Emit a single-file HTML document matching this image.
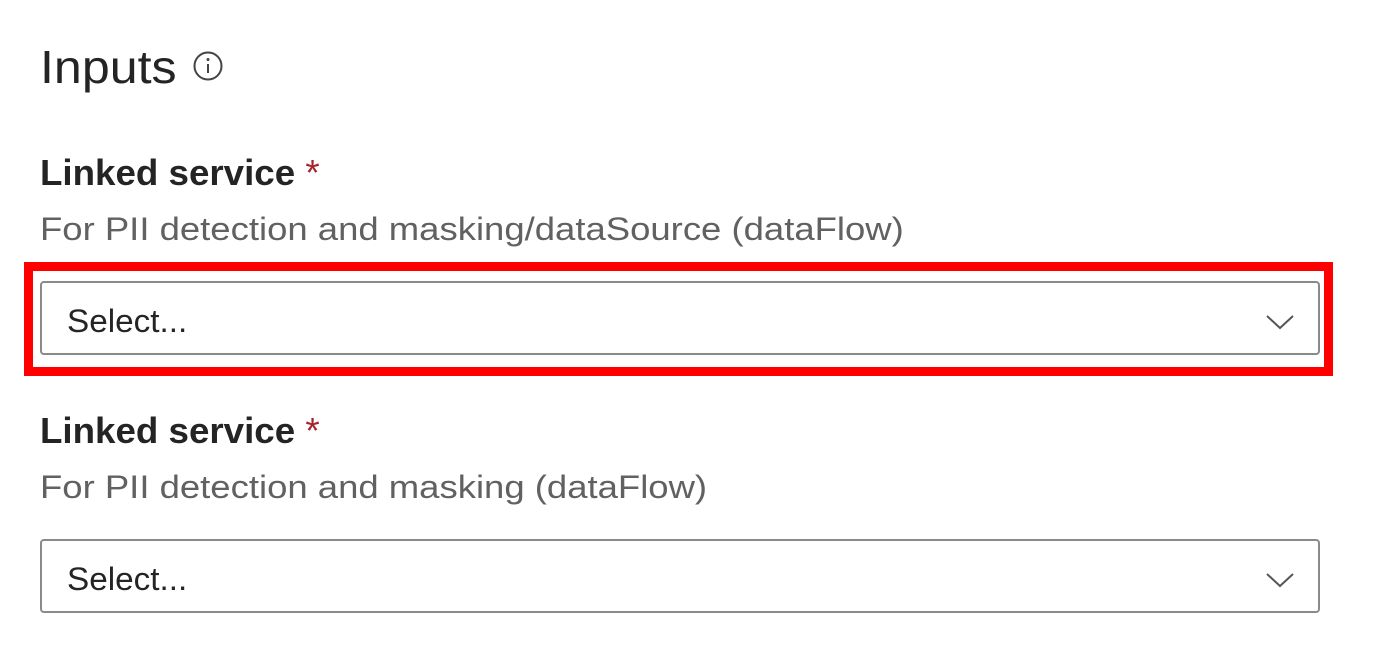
<!DOCTYPE html>
<html><head><style>
body{margin:0;width:1374px;height:660px;background:#fff;font-family:"Liberation Sans",sans-serif;position:relative;overflow:hidden}
.t{position:absolute;white-space:nowrap;line-height:1;transform-origin:0 0}
.box{position:absolute;left:40px;width:1276px;height:70px;border:2px solid #8a8a8a;border-radius:4px;box-sizing:content-box}
.sel{position:absolute;left:25px;top:20px;font-size:32px;color:#242424;transform:scaleX(1.04);transform-origin:0 0}
.chev{position:absolute;right:23px;top:29px}
</style></head><body>
<div class="t" style="left:40px;top:44px;font-size:46px;color:#242424;transform:scaleX(1.09)">Inputs</div>
<svg style="position:absolute;left:192px;top:50px" width="34" height="34"><circle cx="16" cy="16" r="13.5" fill="none" stroke="#444" stroke-width="2"/><line x1="16" y1="14" x2="16" y2="23" stroke="#444" stroke-width="2"/><circle cx="16" cy="9.5" r="1.5" fill="#444"/></svg>

<div class="t" style="left:40px;top:155px;font-size:36px;font-weight:bold;color:#242424;transform:scaleX(1.02)">Linked service&nbsp;<span style="color:#a4262c;font-weight:normal">*</span></div>
<div class="t" style="left:40px;top:213px;font-size:32px;color:#616161;transform:scaleX(1.14)">For PII detection and masking/dataSource (dataFlow)</div>
<div style="position:absolute;left:24px;top:262px;width:1309px;height:114px;border:9px solid #ff0000;box-sizing:border-box"></div>
<div class="box" style="top:281px"><div class="sel">Select...</div><svg class="chev" width="30" height="20"><polyline points="2,4 15,16 28,4" fill="none" stroke="#555" stroke-width="2"/></svg></div>

<div class="t" style="left:40px;top:413px;font-size:36px;font-weight:bold;color:#242424;transform:scaleX(1.02)">Linked service&nbsp;<span style="color:#a4262c;font-weight:normal">*</span></div>
<div class="t" style="left:40px;top:471px;font-size:32px;color:#616161;transform:scaleX(1.14)">For PII detection and masking (dataFlow)</div>
<div class="box" style="top:539px"><div class="sel">Select...</div><svg class="chev" width="30" height="20"><polyline points="2,4 15,16 28,4" fill="none" stroke="#555" stroke-width="2"/></svg></div>
</body></html>
